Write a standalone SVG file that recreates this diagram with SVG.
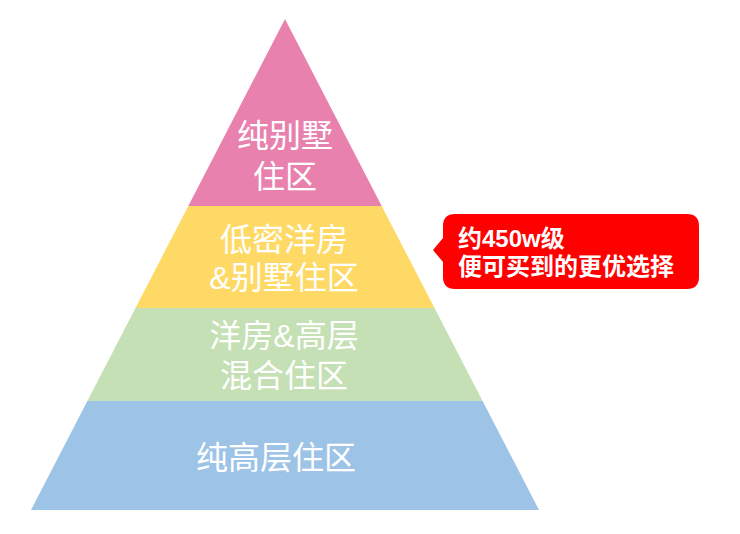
<svg xmlns="http://www.w3.org/2000/svg" width="740" height="534" viewBox="0 0 740 534">
<style>
.t{font-family:"Liberation Sans","Noto Sans CJK SC",sans-serif;font-size:32px;fill:#fff;text-anchor:middle}
.c{font-family:"Liberation Sans","Noto Sans CJK SC",sans-serif;font-size:24px;fill:#fff;font-weight:bold}
</style>
<rect width="740" height="534" fill="#fff"/>
<g id="layer-top">
<polygon points="285,19 381.7,206 188.3,206" fill="#E881AE"/>
<text class="t" x="285" y="147">纯别墅</text>
<text class="t" x="285" y="188">住区</text>
</g>
<g id="layer-2">
<polygon points="188.3,206 381.7,206 434.5,308 135.5,308" fill="#FFD966"/>
<text class="t" x="284" y="251">低密洋房</text>
<text class="t" x="284" y="289">&amp;别墅住区</text>
</g>
<g id="layer-3">
<polygon points="135.5,308 434.5,308 482.6,401 87.4,401" fill="#C5E0B4"/>
<text class="t" x="284" y="347">洋房&amp;高层</text>
<text class="t" x="284" y="387">混合住区</text>
</g>
<g id="layer-bottom">
<polygon points="87.4,401 482.6,401 539,510 31,510" fill="#9DC3E6"/>
<text class="t" x="276" y="469">纯高层住区</text>
</g>
<g id="callout">
<path d="M455,214 H687 Q699,214 699,226 V277 Q699,289 687,289 H455 Q443,289 443,277 V262 L433,250 L443,238 V226 Q443,214 455,214 Z" fill="#FF0000"/>
<text class="c" x="458" y="247">约450w级</text>
<text class="c" x="458" y="275">便可买到的更优选择</text>
</g>
<g id="connectors"/>
</svg>
